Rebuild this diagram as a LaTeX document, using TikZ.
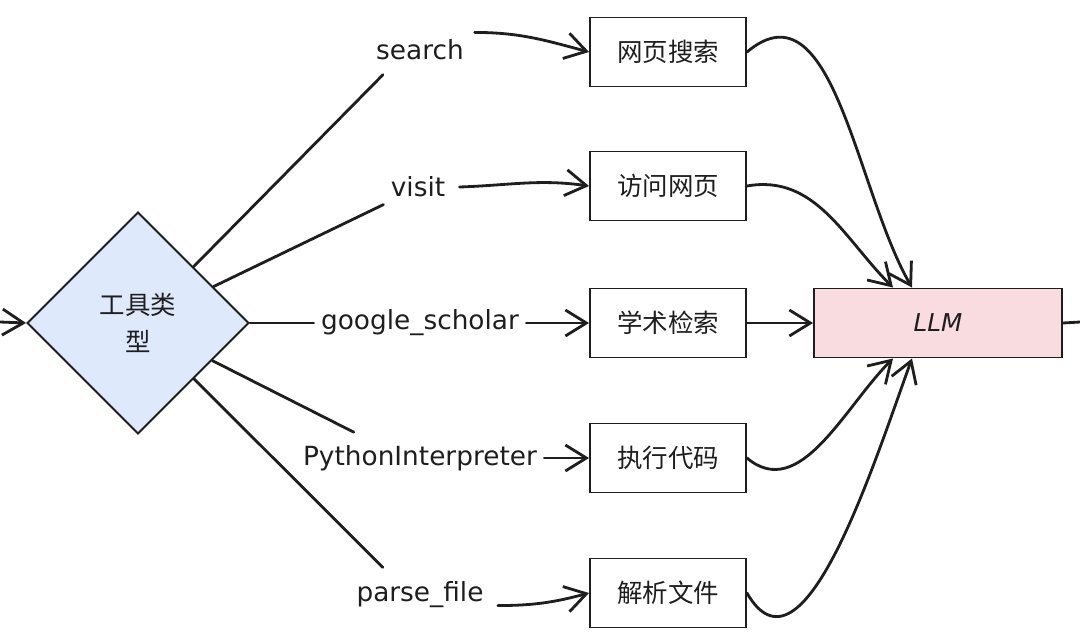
\documentclass[tikz,border=0pt]{standalone}
\usepackage{fontspec}
\setmainfont{DejaVu Sans}
\newfontfamily\cjk{Noto Sans CJK SC}
\usetikzlibrary{shapes.geometric,arrows.meta,calc}
\definecolor{ink}{HTML}{1E1E1E}
\definecolor{dfill}{HTML}{DEEAFB}
\definecolor{lfill}{HTML}{F9DCDF}
\begin{document}
\begin{tikzpicture}[x=0.02cm,y=-0.02cm,
  box/.style={draw=ink,line width=1.1pt,minimum width=3.12cm,minimum height=1.38cm,inner sep=0pt,font=\cjk\fontsize{14.5}{17}\selectfont,text=ink},
  lbl/.style={font=\fontsize{15}{18}\selectfont,text=ink,inner sep=4pt},
  conn/.style={draw=ink,line width=1.6pt,line cap=round},
  arr/.style={conn,-{Straight Barb[length=4.2mm,width=5.2mm,line width=1.6pt]}},
]
\useasboundingbox (0,0) rectangle (1080,640);
\node[diamond,aspect=1,draw=ink,line width=1.1pt,fill=dfill,minimum width=4.44cm,minimum height=4.44cm,inner sep=0pt,align=center,font=\cjk\fontsize{14.5}{21}\selectfont,text=ink] (d) at (138,323) {工具类\\型};
\node[box] (b1) at (668,52) {网页搜索};
\node[box] (b2) at (668,186) {访问网页};
\node[box] (b3) at (668,323) {学术检索};
\node[box] (b4) at (668,458) {执行代码};
\node[box] (b5) at (668,593) {解析文件};
\node[box,fill=lfill,minimum width=4.96cm,font=\itshape\fontsize{14}{17}\selectfont] (L) at (938,323) {LLM};
\node[lbl] (ls) at (420,50) {search};
\node[lbl] (lv) at (418,187) {visit};
\node[lbl] (lg) at (420,323) {google\_scholar};
\node[lbl] (lp) at (420,458) {PythonInterpreter};
\node[lbl] (lf) at (420,595) {parse\_file};
\coordinate (in) at (0,322);
\coordinate (out) at (1080,322);
% input / output
\draw[arr] (in) -- (d.west);
\draw[conn] (L.east) -- (out);
% diamond to labels
\draw[conn,shorten >=0.2cm] (d) -- ([xshift=-0.6cm]ls.south);
\draw[conn] (d) -- (lv.south west);
\draw[conn] (d) -- (lg.west);
\draw[conn,shorten >=0.25cm] (d) -- ([xshift=-1.1cm]lp.north);
\draw[conn,shorten >=0.2cm] (d) -- ([xshift=-0.6cm]lf.north);
% labels to boxes
\draw[arr] ([xshift=2pt]ls.north east) to[out=0,in=165] (b1.west);
\draw[arr] ([xshift=4pt]lv.east) to[out=2,in=172] (b2.west);
\draw[arr] (lg.east) -- (b3.west);
\draw[arr] (lp.east) -- (b4.west);
\draw[arr] ([xshift=4pt,yshift=-6pt]lf.east) to[out=0,in=195] (b5.west);
% boxes to LLM
\draw[arr] (b1.east) to[out=40,in=120] ([xshift=-0.52cm]L.north);
\draw[arr] (b2.east) to[out=10,in=135] ([xshift=-0.9cm]L.north);
\draw[arr] (b3.east) -- (L.west);
\draw[arr] (b4.east) to[out=-40,in=-135] ([xshift=-0.9cm]L.south);
\draw[arr] (b5.east) to[out=-60,in=-110] ([xshift=-0.52cm]L.south);
\end{tikzpicture}
\end{document}
